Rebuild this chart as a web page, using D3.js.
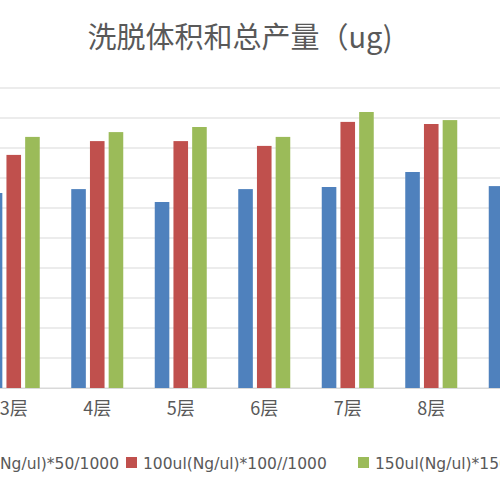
<!DOCTYPE html>
<html><head><meta charset="utf-8">
<script src="https://cdn.jsdelivr.net/npm/d3@7"></script>
<style>body{margin:0;background:#fff;overflow:hidden}text{font-family:"Noto Sans CJK SC","DejaVu Sans",sans-serif;fill:#595959}</style>
</head><body>
<script>
const categories = ["3层", "4层", "5层", "6层", "7层", "8层", "9层"];
const seriesNames = ["50ul(Ng/ul)*50/1000", "100ul(Ng/ul)*100//1000", "150ul(Ng/ul)*150/1000"];
const s50 = [6.5, 6.63, 6.2, 6.63, 6.7, 7.2, 6.73];
const s100 = [7.77, 8.23, 8.23, 8.07, 8.87, 8.8, null];
const s150 = [8.37, 8.53, 8.7, 8.37, 9.2, 8.93, null];
const colors = ["#4f81bd", "#c0504d", "#9bbb59"];
const yTicks = d3.range(0, 11);

const w = 500, h = 500;
const svg = d3.select("body").append("svg").attr("width", w).attr("height", h);

const x = d3.scaleBand().domain(categories).range([-28, 556.5]);
const xs = d3.scaleBand().domain([0, 1, 2]).range([-26, 26]).paddingInner(0.22);
const y = d3.scaleLinear().domain([0, 10]).range([388, 88]);

svg.append("text").attr("x", 240).attr("y", 48).attr("text-anchor", "middle")
  .style("font-size", "29px").text("洗脱体积和总产量（ug)");

svg.append("g").selectAll("line").data(yTicks).join("line")
  .attr("x1", 0).attr("x2", w).attr("y1", d => y(d)).attr("y2", d => y(d))
  .attr("stroke", "#d9d9d9").attr("stroke-width", 1);

const series = [s50, s100, s150];
series.forEach((vals, si) => {
  svg.append("g").selectAll("rect").data(categories.map((c, i) => ({c, v: vals[i]})).filter(d => d.v != null))
    .join("rect")
    .attr("x", d => x(d.c) + x.bandwidth() / 2 + xs(si))
    .attr("width", xs.bandwidth())
    .attr("y", d => y(d.v))
    .attr("height", d => y(0) - y(d.v))
    .attr("fill", colors[si]);
});

const xAxis = svg.append("g").attr("transform", "translate(0,388)")
  .call(d3.axisBottom(x).tickSize(0).tickPadding(14));
xAxis.select(".domain").attr("stroke", "#d9d9d9");
xAxis.selectAll("text").style("font-size", "18px").style("fill", "#595959").style("font-family", "'Noto Sans CJK SC',sans-serif");

// legend
const ly = 463;
const lf = "15.5px";
svg.append("text").attr("x", 119).attr("y", ly + 6).attr("text-anchor", "end")
  .style("font-size", lf).style("font-family", "'DejaVu Sans',sans-serif").text(seriesNames[0]);
[1, 2].forEach((k, j) => {
  const lx = j === 0 ? 126 : 358;
  svg.append("rect").attr("x", lx).attr("y", ly - 6).attr("width", 11).attr("height", 11).attr("fill", colors[k]);
  svg.append("text").attr("x", lx + 17).attr("y", ly + 6).style("font-size", lf)
    .style("font-family", "'DejaVu Sans',sans-serif").text(seriesNames[k]);
});
</script>
</body></html>
